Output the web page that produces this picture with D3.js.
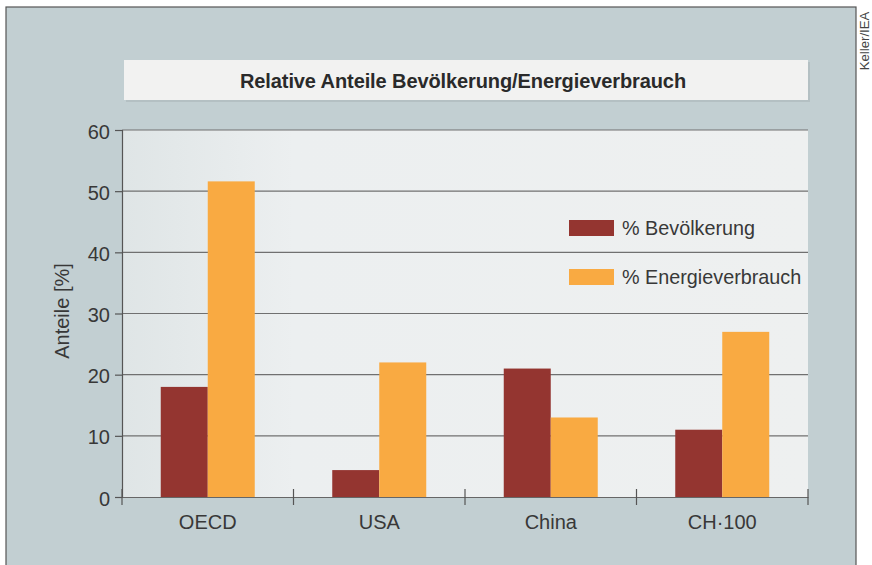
<!DOCTYPE html>
<html>
<head>
<meta charset="utf-8">
<script src="https://cdn.jsdelivr.net/npm/d3@7"></script>
<style>
  body { margin: 0; background: #fff; }
  svg text { font-family: "Liberation Sans", Arial, sans-serif; fill: #383838; }
</style>
</head>
<body>
<svg id="chart" width="872" height="565"></svg>
<script>
// data
var categories = ["OECD", "USA", "China", "CH\u00b7100"];
var seriesNames = ["% Bevölkerung", "% Energieverbrauch"];
var bevoelkerung = [18, 4.4, 21, 11];
var energie = [51.6, 22, 13, 27];
var yTicks = [0, 10, 20, 30, 40, 50, 60];
var colors = ["#943530", "#f9aa42"];

var svg = d3.select("#chart");
var fs = 20;

// page background + frame
svg.append("rect").attr("x", 0).attr("y", 0).attr("width", 872).attr("height", 565).attr("fill", "#fff");
svg.append("rect").attr("x", 6).attr("y", 7).attr("width", 850).attr("height", 570)
  .attr("fill", "#c2cfd2").attr("stroke", "#555").attr("stroke-width", 1.2);

var defs = svg.append("defs");
var grad = defs.append("linearGradient").attr("id", "plotbg").attr("x1", "0").attr("x2", "1");
grad.append("stop").attr("offset", "0").attr("stop-color", "#dfe5e6");
grad.append("stop").attr("offset", "0.25").attr("stop-color", "#eceff0");
grad.append("stop").attr("offset", "1").attr("stop-color", "#eef0f0");

var m = {left: 122, right: 808, top: 130, bottom: 497};

svg.append("rect").attr("x", m.left).attr("y", m.top)
  .attr("width", m.right - m.left).attr("height", m.bottom - m.top)
  .attr("fill", "url(#plotbg)");

// title box
svg.append("rect").attr("x", 126).attr("y", 62).attr("width", 684).attr("height", 40).attr("fill", "#aab6b9").attr("opacity", 0.6);
svg.append("rect").attr("x", 124).attr("y", 60).attr("width", 684).attr("height", 40).attr("fill", "#f2f2f1");
svg.append("text").attr("x", 463).attr("y", 88).attr("text-anchor", "middle")
  .attr("font-size", 20).attr("font-weight", "bold").attr("letter-spacing", -0.1).style("fill", "#2a2a2a")
  .text("Relative Anteile Bevölkerung/Energieverbrauch");

// credit
svg.append("text").attr("transform", "translate(869,41) rotate(-90)")
  .attr("text-anchor", "middle").attr("font-size", 13.2).style("fill", "#444")
  .text("Keller/IEA");

var x = d3.scaleBand().domain(categories).range([m.left, m.right]);
var x1 = d3.scaleBand().domain(seriesNames).range([0, 94]);
var y = d3.scaleLinear().domain([0, 60]).range([m.bottom, m.top]);

// grid
svg.append("g").selectAll("line").data(yTicks.slice(1)).join("line")
  .attr("x1", m.left).attr("x2", m.right)
  .attr("y1", function(d) { return y(d); }).attr("y2", function(d) { return y(d); })
  .attr("stroke", "#707070").attr("stroke-width", 1.2);

// y axis
var yAxis = svg.append("g").attr("transform", "translate(" + m.left + ",0)")
  .call(d3.axisLeft(y).tickValues(yTicks).tickSize(7).tickPadding(5));
yAxis.select(".domain").attr("stroke", "#555").attr("stroke-width", 1.2);
yAxis.selectAll(".tick line").attr("stroke", "#555").attr("stroke-width", 1.2);
yAxis.selectAll("text").attr("font-size", fs).attr("dy", "0.4em").style("fill", "#383838")
  .attr("font-family", "Liberation Sans, Arial, sans-serif");

svg.append("text").attr("transform", "translate(69,311) rotate(-90)")
  .attr("text-anchor", "middle").attr("font-size", fs).text("Anteile [%]");

// bars
var rows = categories.map(function(c, i) {
  return {cat: c, vals: [bevoelkerung[i], energie[i]]};
});
var groups = svg.append("g").selectAll("g").data(rows).join("g")
  .attr("transform", function(d) { return "translate(" + (x(d.cat) + (x.bandwidth() - 94) / 2) + ",0)"; });
groups.selectAll("rect").data(function(d) {
  return d.vals.map(function(v, j) { return {s: seriesNames[j], v: v, j: j}; });
}).join("rect")
  .attr("x", function(d) { return x1(d.s); })
  .attr("width", x1.bandwidth())
  .attr("y", function(d) { return y(d.v); })
  .attr("height", function(d) { return y(0) - y(d.v); })
  .attr("fill", function(d) { return colors[d.j]; });

// x axis
var xAxis = svg.append("g").attr("transform", "translate(0," + m.bottom + ")")
  .call(d3.axisBottom(x).tickSize(0).tickPadding(18));
xAxis.select(".domain").attr("stroke", "#666").attr("stroke-width", 1.2);
xAxis.selectAll("text").attr("font-size", fs).style("fill", "#383838")
  .attr("font-family", "Liberation Sans, Arial, sans-serif");
var bounds = categories.map(function(c) { return x(c); }).concat([m.right]);
svg.append("g").selectAll("line").data(bounds).join("line")
  .attr("x1", function(d) { return d; }).attr("x2", function(d) { return d; })
  .attr("y1", m.bottom - 8).attr("y2", m.bottom + 8)
  .attr("stroke", "#555").attr("stroke-width", 1.2);

// legend
var leg = svg.append("g").selectAll("g").data(seriesNames).join("g")
  .attr("transform", function(d, i) { return "translate(569," + (220 + i * 49) + ")"; });
leg.append("rect").attr("width", 45).attr("height", 16)
  .attr("fill", function(d, i) { return colors[i]; });
leg.append("text").attr("x", 53).attr("y", 15).attr("font-size", 19.8).text(function(d) { return d; });
</script>
</body>
</html>
